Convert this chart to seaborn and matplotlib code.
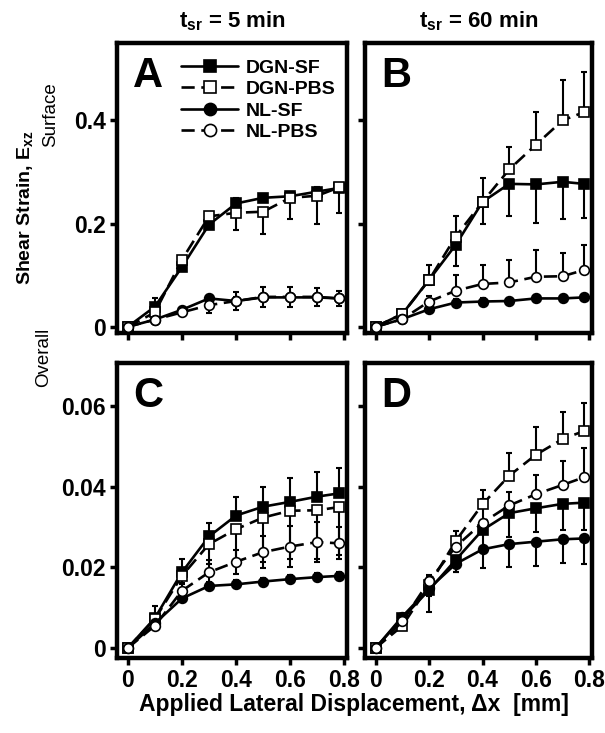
"""Shear strain vs lateral displacement, 2x2 panels"""
import numpy as np
import pandas as pd
import seaborn as sns
import matplotlib
matplotlib.use('Agg')
import matplotlib.pyplot as plt

disp = [0, 0.1, 0.2, 0.3, 0.4, 0.5, 0.6, 0.7, 0.78]
series = ['DGN-SF', 'DGN-PBS', 'NL-SF', 'NL-PBS']

# A: surface, t_sr = 5 min
a_dgn_sf = [0, 0.039, 0.116, 0.198, 0.239, 0.250, 0.253, 0.262, 0.269]
a_dgn_pbs = [0, 0.028, 0.130, 0.214, 0.221, 0.223, 0.250, 0.254, 0.270]
a_nl_sf = [0, 0.014, 0.033, 0.055, 0.050, 0.057, 0.057, 0.057, 0.055]
a_nl_pbs = [0, 0.014, 0.028, 0.042, 0.050, 0.058, 0.058, 0.058, 0.055]
a_err = {'DGN-SF': [0, 0.017, 0.020, 0.010, 0.010, 0.008, 0.008, 0.008, 0.008],
         'DGN-PBS': [0, 0.005, 0.010, 0.010, 0.033, 0.044, 0.042, 0.054, 0.050],
         'NL-SF': [0, 0.003, 0.005, 0.007, 0.008, 0.006, 0.006, 0.006, 0.006],
         'NL-PBS': [0, 0.004, 0.006, 0.015, 0.018, 0.020, 0.020, 0.017, 0.015]}

# B: surface, t_sr = 60 min
b_dgn_sf = [0, 0.025, 0.091, 0.159, 0.242, 0.277, 0.276, 0.281, 0.277]
b_dgn_pbs = [0, 0.025, 0.091, 0.175, 0.242, 0.305, 0.353, 0.400, 0.416]
b_nl_sf = [0, 0.015, 0.034, 0.047, 0.049, 0.050, 0.055, 0.055, 0.057]
b_nl_pbs = [0, 0.015, 0.049, 0.070, 0.083, 0.086, 0.097, 0.098, 0.110]
b_err = {'DGN-SF': [0, 0.005, 0.010, 0.042, 0.042, 0.063, 0.074, 0.073, 0.067],
         'DGN-PBS': [0, 0.005, 0.028, 0.040, 0.046, 0.044, 0.064, 0.079, 0.077],
         'NL-SF': [0, 0.003, 0.006, 0.006, 0.006, 0.006, 0.006, 0.006, 0.006],
         'NL-PBS': [0, 0.004, 0.010, 0.030, 0.037, 0.043, 0.051, 0.046, 0.049]}

# C: overall, t_sr = 5 min
c_dgn_sf = [0, 0.0074, 0.0188, 0.0277, 0.0329, 0.0351, 0.0363, 0.0376, 0.0384]
c_dgn_pbs = [0, 0.0072, 0.0179, 0.0258, 0.0295, 0.0324, 0.0341, 0.0342, 0.0350]
c_nl_sf = [0, 0.0061, 0.0123, 0.0154, 0.0158, 0.0165, 0.0171, 0.0176, 0.0179]
c_nl_pbs = [0, 0.0055, 0.0142, 0.0188, 0.0214, 0.0238, 0.0252, 0.0263, 0.0260]
c_err = {'DGN-SF': [0, 0.0030, 0.0032, 0.0034, 0.0047, 0.0050, 0.0059, 0.0062, 0.0064],
         'DGN-PBS': [0, 0.0010, 0.0020, 0.0050, 0.0090, 0.0110, 0.0120, 0.0120, 0.0120],
         'NL-SF': [0, 0.0005, 0.0008, 0.0010, 0.0010, 0.0010, 0.0010, 0.0010, 0.0010],
         'NL-PBS': [0, 0.0010, 0.0020, 0.0030, 0.0030, 0.0040, 0.0050, 0.0050, 0.0040]}

# D: overall, t_sr = 60 min
d_dgn_sf = [0, 0.0074, 0.0144, 0.0219, 0.0293, 0.0335, 0.0347, 0.0358, 0.0361]
d_dgn_pbs = [0, 0.0055, 0.0156, 0.0266, 0.0357, 0.0428, 0.0480, 0.0519, 0.0539]
d_nl_sf = [0, 0.0078, 0.0148, 0.0209, 0.0245, 0.0258, 0.0264, 0.0270, 0.0272]
d_nl_pbs = [0, 0.0066, 0.0166, 0.0252, 0.0311, 0.0354, 0.0382, 0.0405, 0.0424]
d_err = {'DGN-SF': [0, 0.0010, 0.0054, 0.0030, 0.0050, 0.0060, 0.0060, 0.0065, 0.0068],
         'DGN-PBS': [0, 0.0010, 0.0020, 0.0025, 0.0036, 0.0056, 0.0068, 0.0068, 0.0069],
         'NL-SF': [0, 0.0010, 0.0020, 0.0020, 0.0047, 0.0057, 0.0060, 0.0060, 0.0063],
         'NL-PBS': [0, 0.0010, 0.0015, 0.0020, 0.0059, 0.0034, 0.0048, 0.0060, 0.0072]}

# which way each error bar points
a_dir = {'DGN-SF': 'up', 'DGN-PBS': 'down', 'NL-SF': 'both', 'NL-PBS': 'both'}
b_dir = {'DGN-SF': 'down', 'DGN-PBS': 'up', 'NL-SF': 'both', 'NL-PBS': 'up'}
c_dir = {'DGN-SF': 'up', 'DGN-PBS': 'down', 'NL-SF': 'both', 'NL-PBS': 'both'}
d_dir = {'DGN-SF': 'down', 'DGN-PBS': 'up', 'NL-SF': 'down', 'NL-PBS': 'up'}

x_ticks = [0, 0.2, 0.4, 0.6, 0.8]
x_ticklabels = ['0', '0.2', '0.4', '0.6', '0.8']
surf_ticks = [0, 0.2, 0.4]
surf_ticklabels = ['0', '0.2', '0.4']
overall_ticks = [0, 0.02, 0.04, 0.06]
overall_ticklabels = ['0', '0.02', '0.04', '0.06']


def long_form(vals):
    return pd.concat([pd.DataFrame({'disp': disp, 'strain': v, 'series': s})
                      for s, v in zip(series, vals)], ignore_index=True)


sns.set_style('ticks')
plt.rcParams['font.family'] = ['Liberation Sans', 'DejaVu Sans']
plt.rcParams['mathtext.fontset'] = 'custom'
plt.rcParams['mathtext.rm'] = 'Liberation Sans'
plt.rcParams['mathtext.bf'] = 'Liberation Sans:bold'
plt.rcParams['mathtext.it'] = 'Liberation Sans:italic'
for k in ('text.color', 'axes.labelcolor', 'xtick.color', 'ytick.color', 'axes.edgecolor'):
    plt.rcParams[k] = 'black'

style = {'DGN-SF': dict(marker='s', mfc='k', ls='-'),
         'DGN-PBS': dict(marker='s', mfc='white', ls=(0, (5, 2.5))),
         'NL-SF': dict(marker='o', mfc='k', ls='-'),
         'NL-PBS': dict(marker='o', mfc='white', ls=(0, (5, 2.5)))}

fig = plt.figure(figsize=(6.05, 7.33), dpi=100)
W, H = 605, 733
boxes = {'A': (117, 43, 347, 333), 'B': (365, 43, 592, 333),
         'C': (117, 363, 347, 658), 'D': (365, 363, 592, 658)}
axes = {}
for k, (l, t, r, b) in boxes.items():
    axes[k] = fig.add_axes([l / W, 1 - b / H, (r - l) / W, (b - t) / H])

panels = [('A', [a_dgn_sf, a_dgn_pbs, a_nl_sf, a_nl_pbs], a_err, a_dir),
          ('B', [b_dgn_sf, b_dgn_pbs, b_nl_sf, b_nl_pbs], b_err, b_dir),
          ('C', [c_dgn_sf, c_dgn_pbs, c_nl_sf, c_nl_pbs], c_err, c_dir),
          ('D', [d_dgn_sf, d_dgn_pbs, d_nl_sf, d_nl_pbs], d_err, d_dir)]

for key, vals, err, edir in panels:
    ax = axes[key]
    df = long_form(vals)
    for s in series:
        sub = df[df.series == s]
        e = np.array(err[s])
        lo = e if edir[s] in ('down', 'both') else np.zeros_like(e)
        hi = e if edir[s] in ('up', 'both') else np.zeros_like(e)
        ax.errorbar(sub.disp, sub.strain, yerr=[lo, hi], fmt='none', ecolor='k',
                    elinewidth=1.5, capsize=2.5, capthick=1.5, zorder=2)
        st = style[s]
        sns.lineplot(data=sub, x='disp', y='strain', ax=ax, color='k', lw=1.9,
                     marker=st['marker'], mfc=st['mfc'], mec='k', mew=1.2, ms=7,
                     linestyle=st['ls'], label=s, legend=False, zorder=3)
    ax.set_xlim(-0.04, 0.81)
    ax.set_xticks(x_ticks)
    if key in ('A', 'B'):
        ax.set_ylim(-0.012, 0.55)
        ax.set_yticks(surf_ticks)
        ax.set_yticklabels(surf_ticklabels if key == 'A' else [])
        ax.set_xticklabels([])
    else:
        ax.set_ylim(-0.0025, 0.0708)
        ax.set_yticks(overall_ticks)
        ax.set_yticklabels(overall_ticklabels if key == 'C' else [])
        ax.set_xticklabels(x_ticklabels)
    ax.set_xlabel('')
    ax.set_ylabel('')
    for sp in ax.spines.values():
        sp.set_linewidth(3.2)
        sp.set_color('black')
        sp.set_visible(True)
    ax.tick_params(direction='out', length=5, width=2.5, labelsize=16.5, pad=3,
                   colors='black')
    for lab in ax.get_xticklabels() + ax.get_yticklabels():
        lab.set_fontweight('bold')
    ax.text(0.07, 0.955, key, transform=ax.transAxes, fontsize=30,
            fontweight='bold', va='top', ha='left', color='black')

axes['A'].set_title(r'$\mathbf{t_{sr}}$ = 5 min', fontsize=16, fontweight='bold',
                    pad=11, color='black')
axes['B'].set_title(r'$\mathbf{t_{sr}}$ = 60 min', fontsize=16, fontweight='bold',
                    pad=11, color='black')

handles, labels = axes['A'].get_legend_handles_labels()
axes['A'].legend(handles[:4], labels[:4], loc='upper right', bbox_to_anchor=(1.0, 0.985),
                 frameon=False, handlelength=2.9, handletextpad=0.4, labelspacing=0.2,
                 markerscale=1.25, prop={'weight': 'bold', 'size': 14}, borderaxespad=0.2)

fig.text(25 / W, 1 - 208 / H, r'Shear Strain, $\mathbf{E_{xz}}$', rotation=90,
         fontsize=14, fontweight='bold', ha='center', va='center')
fig.text(51 / W, 1 - 115 / H, 'Surface', rotation=90, fontsize=13.5, ha='center', va='center')
fig.text(44 / W, 1 - 357 / H, 'Overall', rotation=90, fontsize=13.5, ha='center', va='center')
fig.text(354 / W, 1 - 705 / H, 'Applied Lateral Displacement, \u0394x  [mm]',
         fontsize=16.5, fontweight='bold', ha='center', va='center')

plt.savefig('out.png', dpi=100)
